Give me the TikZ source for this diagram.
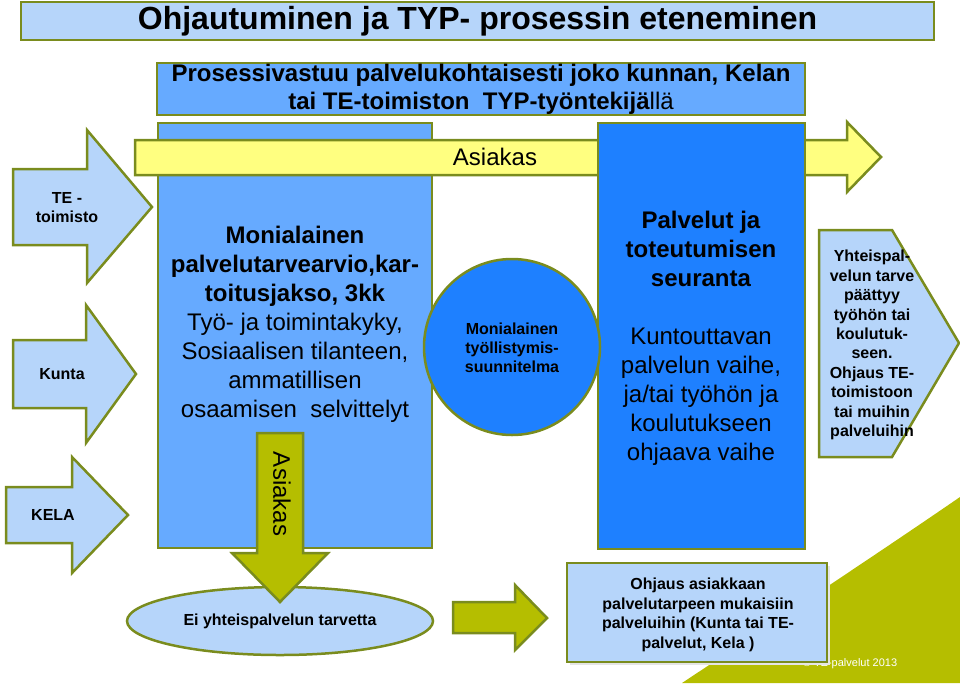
\documentclass[tikz,border=0pt]{standalone}
\usepackage{fontspec}
\setmainfont{Liberation Sans}
\usetikzlibrary{shapes.geometric}
\definecolor{lblue}{RGB}{182,213,250}
\definecolor{mblue}{RGB}{102,170,255}
\definecolor{dblue}{RGB}{30,128,255}
\definecolor{olivebd}{RGB}{122,140,30}
\definecolor{olivefill}{RGB}{181,190,0}
\definecolor{yel}{RGB}{255,255,128}
\begin{document}
\begin{tikzpicture}[x=1pt,y=-1pt,
  bd/.style={draw=olivebd, line width=2.5pt, line join=miter},
  boxn/.style={bd, inner sep=0pt},
  txt/.style={inner sep=0pt, align=center, text=black}]
\useasboundingbox (0,0) rectangle (960,683);
% background decoration
\fill[olivefill] (682,683) .. controls (780,618) and (880,552) .. (960,497) -- (960,683) -- cycle;
\node[txt, text=white, font=\fontsize{11}{13}\selectfont] (copy) at (850,664) {© TE-palvelut 2013};
% title and subtitle
\node[boxn, fill=lblue, minimum width=913pt, minimum height=38pt] (title) at (477.5,21)
  {\fontsize{32}{34}\selectfont\bfseries Ohjautuminen ja TYP- prosessin eteneminen};
\node[boxn, fill=mblue, minimum width=648pt, minimum height=52pt, align=center,
  font=\fontsize{24}{28}\selectfont] (sub) at (481,89)
  {\textbf{Prosessivastuu palvelukohtaisesti joko kunnan, Kelan}\\
   \textbf{tai TE-toimiston\ \ TYP-työntekijä}llä};
% main boxes
\node[boxn, fill=mblue, minimum width=274pt, minimum height=425pt] (mid) at (295,335.5) {};
\filldraw[bd, fill=yel] (135,140) -- (847,140) -- (847,122) -- (881,157) -- (847,192)
  -- (847,175) -- (135,175) -- cycle;
\node[txt, font=\fontsize{24}{28}\selectfont] (asiakas1) at (495,157) {Asiakas};
\node[boxn, fill=dblue, minimum width=207pt, minimum height=426pt] (dark) at (701.5,336) {};
\node[bd, fill=dblue, circle, minimum size=176pt, inner sep=0pt] (circ) at (512,347) {};
% right pentagon
\filldraw[bd, fill=lblue] (819,230) -- (892,230) -- (959,343) -- (892,457) -- (819,457) -- cycle;
% left arrows
\filldraw[bd, fill=lblue] (13,169) -- (87,169) -- (87,130) -- (152,207) -- (87,283) -- (87,245) -- (13,245) -- cycle;
\filldraw[bd, fill=lblue] (13,340) -- (86,340) -- (86,305) -- (136,374) -- (86,443) -- (86,408) -- (13,408) -- cycle;
\filldraw[bd, fill=lblue] (6,487) -- (72,487) -- (72,457) -- (128,515) -- (72,573) -- (72,543) -- (6,543) -- cycle;
% bottom
\node[bd, fill=lblue, ellipse, minimum width=306pt, minimum height=68pt, inner sep=0pt] (ell) at (280,621) {};
\filldraw[bd, fill=olivefill] (257,433) -- (303,433) -- (303,553) -- (328,553) -- (280,602)
  -- (232,553) -- (257,553) -- cycle;
\node[txt, rotate=-90, font=\fontsize{24}{28}\selectfont] (asiakas2) at (282,494) {Asiakas};
\filldraw[bd, fill=olivefill] (453,602) -- (515,602) -- (515,585) -- (547,618) -- (515,650)
  -- (515,633) -- (453,633) -- cycle;
\fill[black!10] (570,566) rectangle (830,665);
\node[boxn, fill=lblue, minimum width=260pt, minimum height=99pt] (ohj) at (697,612.5) {};
% texts
\node[txt, font=\fontsize{24}{29}\selectfont] (midtxt) at (295,324)
  {\textbf{Monialainen}\\ \textbf{palvelutarvearvio,kar-}\\ \textbf{toitusjakso, 3kk}\\
   Työ- ja toimintakyky,\\ Sosiaalisen tilanteen,\\ ammatillisen\\ osaamisen\ \ selvittelyt};
\node[txt, font=\fontsize{24}{29}\selectfont] (darktxt) at (701,338)
  {\textbf{Palvelut ja}\\ \textbf{toteutumisen}\\ \textbf{seuranta}\\[29pt]
   Kuntouttavan\\ palvelun vaihe,\\ ja/tai työhön ja\\ koulutukseen\\ ohjaava vaihe};
\node[txt, font=\fontsize{16}{19}\selectfont\bfseries] (circtxt) at (512,348)
  {Monialainen\\ työllistymis-\\ suunnitelma};
\node[txt, font=\fontsize{16}{19.4}\selectfont\bfseries] (penttxt) at (872,345)
  {Yhteispal-\\ velun tarve\\ päättyy\\ työhön tai\\ koulutuk-\\ seen.\\ Ohjaus TE-\\ toimistoon\\ tai muihin\\ palveluihin};
\node[txt, font=\fontsize{16}{19}\selectfont\bfseries] (te) at (67,208) {TE -\\ toimisto};
\node[txt, font=\fontsize{16}{19}\selectfont\bfseries] (kunta) at (62,374) {Kunta};
\node[txt, font=\fontsize{16}{19}\selectfont\bfseries] (kela) at (53,515) {KELA};
\node[txt, font=\fontsize{16}{19}\selectfont\bfseries] (elltxt) at (280,621) {Ei yhteispalvelun tarvetta};
\node[txt, font=\fontsize{16}{19.6}\selectfont\bfseries] (ohjtxt) at (698,615)
  {Ohjaus asiakkaan\\ palvelutarpeen mukaisiin\\ palveluihin (Kunta tai TE-\\ palvelut, Kela )};
\end{tikzpicture}
\end{document}
